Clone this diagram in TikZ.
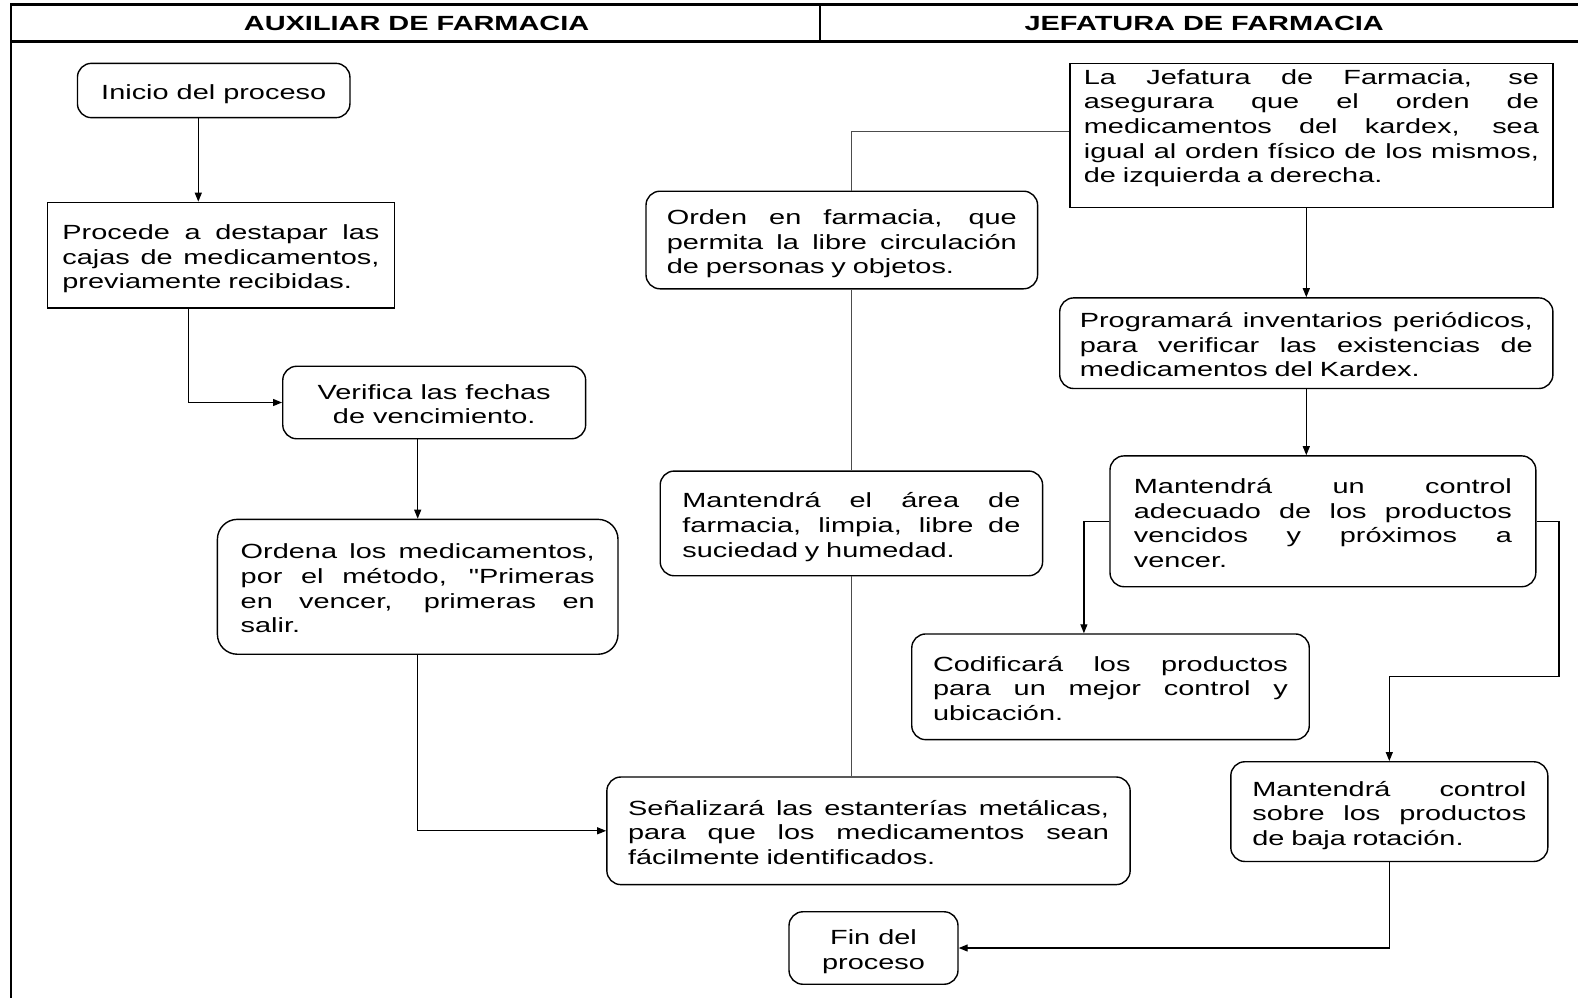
\documentclass[tikz,border=0pt]{standalone}
\usepackage{fontspec}
\setmainfont{Liberation Sans}[FakeStretch=1.41]
\newfontfamily\plainq{Liberation Sans}[FakeStretch=1.41]
\usetikzlibrary{arrows.meta,calc}
\newlength\jwidth
\newcommand\jline[1]{\leavevmode\hbox to \jwidth{\spaceskip=0.28em plus 1fil\relax #1}}
\newcommand\sbeg{\rule{0pt}{24pt}}
\newcommand\send{\rule[-6pt]{0pt}{0pt}}
\begin{document}
\begin{tikzpicture}[x=1pt,y=-1pt,
  font=\fontsize{20.5}{24.6}\selectfont,
  frame/.style={draw, line width=1.4pt, rounded corners=14pt, inner sep=0pt},
  box/.style={frame, align=left, execute at end node={\send}},
  sbox/.style={box, rounded corners=0pt},
  cbox/.style={frame, align=center},
  tw/.style={text width=#1, execute at begin node={\setlength\jwidth{#1}\sbeg}},
  hdr/.style={font=\fontsize{20.5}{24.6}\selectfont\bfseries, inner sep=0pt},
  conn/.style={line width=1.2pt},
  gconn/.style={line width=1.2pt, black!70},
  arr/.style={conn, -{Triangle[length=9pt,width=7pt]}}]
\useasboundingbox (0,0) rectangle (1578,998);
% frame and header
\draw[line width=3pt] (11,5) -- (1578,5);
\draw[line width=3.5pt] (11,41.3) -- (1578,41.3);
\draw[line width=2.5pt] (820.2,5) -- (820.2,41.3);
\draw[line width=2pt] (11,3.5) -- (11,998);
\node[hdr] (h1) at (416.6,23.5) {AUXILIAR DE FARMACIA};
\node[hdr] (h2) at (1204.2,23.5) {JEFATURA DE FARMACIA};
% left lane
\node[cbox, minimum width=272.5pt, minimum height=54.3pt] (ini) at (213.7,90.5) {\sbeg Inicio del proceso\send};
\node[sbox, minimum width=347.2pt, minimum height=105.7pt, tw=317pt] (proc) at (220.9,255.2)
  {\jline{Procede a destapar las}\\ \jline{cajas de medicamentos,}\\ previamente recibidas.};
\node[cbox, minimum width=302.9pt, minimum height=72.5pt] (ver) at (434.2,402.5)
  {\sbeg Verifica las fechas\\ de vencimiento.\send};
\node[box, rounded corners=20pt, minimum width=400.6pt, minimum height=134.9pt, tw=354pt] (ord) at (417.7,586.8)
  {\jline{Ordena los medicamentos,}\\ \jline{por el método, {\plainq"}Primeras}\\ \jline{en vencer, primeras en}\\ salir.};
\node[box, minimum width=523.3pt, minimum height=107.6pt, tw=481pt] (senal) at (868.5,830.8)
  {\jline{Señalizará las estanterías metálicas,}\\ \jline{para que los medicamentos sean}\\ fácilmente identificados.};
\node[box, minimum width=391.6pt, minimum height=97.6pt, tw=350pt] (orden) at (841.8,240)
  {\jline{Orden en farmacia, que}\\ \jline{permita la libre circulación}\\ de personas y objetos.};
\node[box, minimum width=382.4pt, minimum height=104.7pt, tw=338pt] (area) at (851.4,523.4)
  {\jline{Mantendrá el área de}\\ \jline{farmacia, limpia, libre de}\\ suciedad y humedad.};
\node[cbox, minimum width=169pt, minimum height=72.5pt] (fin) at (873.5,948)
  {\sbeg Fin del\\ proceso\send};
% right lane
\node[frame, rounded corners=0pt, minimum width=483.1pt, minimum height=143.9pt] (jef) at (1311.4,135.4) {};
\node[inner sep=0pt, tw=455pt, align=left, execute at end node={\send}] (jeftxt) at ([yshift=10.9pt]jef.center)
  {\jline{La Jefatura de Farmacia, se}\\ \jline{asegurara que el orden de}\\ \jline{medicamentos del kardex, sea}\\ \jline{igual al orden físico de los mismos,}\\ de izquierda a derecha.};
\node[box, minimum width=493.2pt, minimum height=90.6pt, tw=453pt] (prog) at (1306.3,343.2)
  {\jline{Programará inventarios periódicos,}\\ \jline{para verificar las existencias de}\\ medicamentos del Kardex.};
\node[box, minimum width=425.8pt, minimum height=130.8pt, tw=378pt] (mant) at (1322.9,521.3)
  {\jline{Mantendrá un control}\\ \jline{adecuado de los productos}\\ \jline{vencidos y próximos a}\\ vencer.};
\node[box, minimum width=397.5pt, minimum height=105.7pt, tw=355pt] (cod) at (1110.5,686.8)
  {\jline{Codificará los productos}\\ \jline{para un mejor control y}\\ ubicación.};
\node[box, minimum width=317pt, minimum height=99.7pt, tw=274pt] (sobre) at (1389.3,811.6)
  {\jline{Mantendrá control}\\ \jline{sobre los productos}\\ de baja rotación.};
\coordinate (k1) at (1559,676.3);
% connectors
\draw[arr] ([xshift=-15.4pt]ini.south) -- ([xshift=-15.4pt]ini.south |- proc.north);
\draw[arr] ([xshift=-32.7pt]proc.south) |- (ver.west);
\draw[arr] (ord.north |- ver.south) -- (ord.north);
\draw[arr] (ord.south) |- (senal.west);
\draw[gconn] ([yshift=3.6pt]jef.west) -| (area.north |- orden.north);
\draw[gconn] (area.north |- orden.south) -- (area.north);
\draw[gconn] (area.south) -- (area.south |- senal.north);
\draw[arr] (prog.north |- jef.south) -- (prog.north);
\draw[arr] (prog.south) -- (prog.south |- mant.north);
\draw[arr] (mant.west) -| ([xshift=-26.6pt]cod.north);
\draw[arr] (mant.east) -| (k1) -| (sobre.north);
\draw[arr] (sobre.south) |- (fin.east);
\end{tikzpicture}
\end{document}
